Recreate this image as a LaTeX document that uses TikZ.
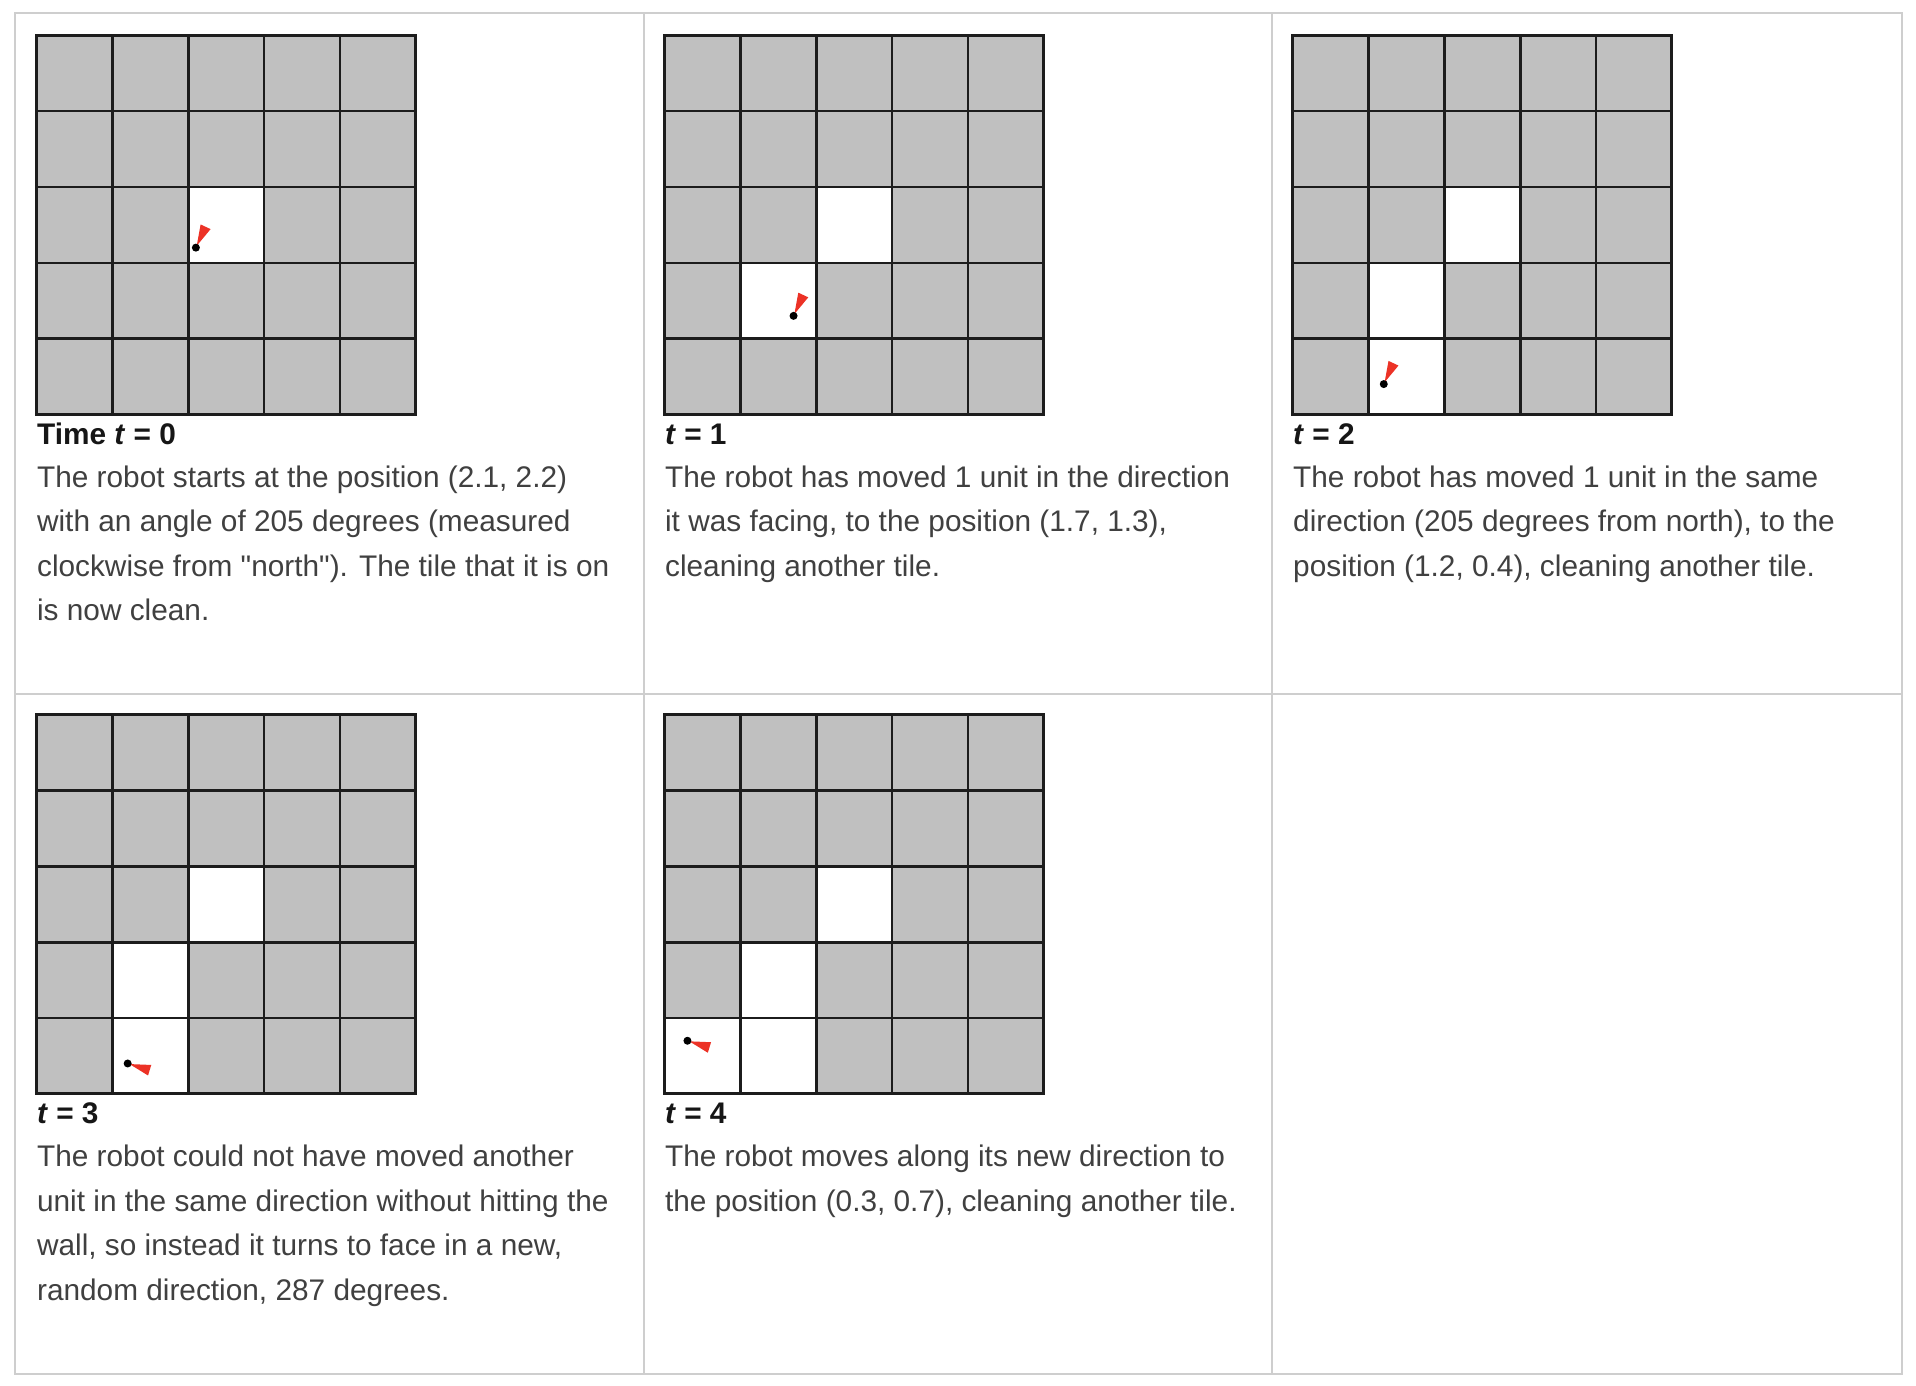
\documentclass[tikz,border=0pt]{standalone}
\usepackage{fontspec}
\setmainfont{Liberation Sans}[Ligatures=TeXOff]
\usetikzlibrary{calc}
\definecolor{cellgray}{RGB}{192,192,192}
\definecolor{gridink}{RGB}{28,28,28}
\definecolor{tableink}{RGB}{206,206,206}
\definecolor{bodyink}{RGB}{64,64,64}
\definecolor{headink}{RGB}{22,22,22}
\definecolor{robotred}{RGB}{236,50,38}
\tikzset{
  headstyle/.style={anchor=base west, inner sep=0pt, text=headink, font=\bfseries\fontsize{14.9}{18}\selectfont},
  bodystyle/.style={anchor=base west, inner sep=0pt, text=bodyink, font=\fontsize{14.9}{18}\selectfont},
  robotdot/.style={circle, fill=black, inner sep=0pt, minimum size=4pt},
  gridstroke/.style={draw=gridink, line width=1.3pt},
  tablestroke/.style={draw=tableink, line width=1pt},
}
\newcommand\roomgrid[3]{%
  \begin{scope}[shift={(#1,#2)}]
    \fill[cellgray] (0,0) rectangle (379,379);
    \foreach \c/\r in {#3} {\fill[white] (\c*75.8,\r*75.8) rectangle ++(75.8,75.8);}
    \foreach \i in {1,...,4} {
      \draw[gridstroke] (\i*75.8,0) -- (\i*75.8,379);
      \draw[gridstroke] (0,\i*75.8) -- (379,\i*75.8);
    }
    \draw[gridstroke, line width=1.6pt] (0,0) rectangle (379,379);
  \end{scope}}
% #1 name, #2 grid left, #3 grid bottom, #4 pos x, #5 pos y, #6 tail angle (cw from north)
\newcommand\robot[6]{%
  \pgfmathsetmacro\rx{#2+75.8*#4}%
  \pgfmathsetmacro\ry{#3-75.8*#5}%
  \pgfmathsetmacro\ux{sin(#6)}%
  \pgfmathsetmacro\uy{0-cos(#6)}%
  \pgfmathsetmacro\bx{\rx+23*\ux}%
  \pgfmathsetmacro\by{\ry+23*\uy}%
  \pgfmathsetmacro\pax{\bx-5.5*\uy}%
  \pgfmathsetmacro\pay{\by+5.5*\ux}%
  \pgfmathsetmacro\pbx{\bx+5.5*\uy}%
  \pgfmathsetmacro\pby{\by-5.5*\ux}%
  \pgfmathsetmacro\sx{\rx+2*\ux}%
  \pgfmathsetmacro\sy{\ry+2*\uy}%
  \fill[robotred] (\sx,\sy) -- (\pax,\pay) -- (\pbx,\pby) -- cycle;
  \node[robotdot] (#1) at (\rx,\ry) {};
}
\begin{document}
\begin{tikzpicture}[x=0.5pt,y=-0.5pt]
\useasboundingbox (0,0) rectangle (1916,1386);
\fill[white] (0,0) rectangle (1916,1386);
% table
\draw[tablestroke] (14.5,13.5) rectangle (1901.5,1373.5);
\draw[tablestroke] (644,13.5) -- (644,1373.5);
\draw[tablestroke] (1272,13.5) -- (1272,1373.5);
\draw[tablestroke] (14.5,694) -- (1901.5,694);
% grids
\roomgrid{36.7}{35.4}{2/2}
\roomgrid{664.7}{35.4}{2/2,1/3}
\roomgrid{1292.8}{35.4}{2/2,1/3,1/4}
\roomgrid{36.7}{714.8}{2/2,1/3,1/4}
\roomgrid{664.7}{714.8}{2/2,1/3,1/4,0/4}
% robots
\robot{r0}{36.7}{414.4}{2.1}{2.2}{25}
\robot{r1}{664.7}{414.4}{1.7}{1.3}{25}
\robot{r2}{1292.8}{414.4}{1.2}{0.4}{25}
\robot{r3}{36.7}{1093.8}{1.2}{0.4}{107}
\robot{r4}{664.7}{1093.8}{0.3}{0.7}{107}
% panel t=0
\node[headstyle] (h0) at (36.7,444) {Time \textit{t} = 0};
\node[bodystyle] (b0a) at (36.7,487) {The robot starts at the position (2.1, 2.2)};
\node[bodystyle] (b0b) at (36.7,531.6) {with an angle of 205 degrees (measured};
\node[bodystyle] (b0c) at (36.7,576.2) {clockwise from "north"). The tile that it is on};
\node[bodystyle] (b0d) at (36.7,620.8) {is now clean.};
% panel t=1
\node[headstyle] (h1) at (664.7,444) {\textit{t} = 1};
\node[bodystyle] (b1a) at (664.7,487) {The robot has moved 1 unit in the direction};
\node[bodystyle] (b1b) at (664.7,531.6) {it was facing, to the position (1.7, 1.3),};
\node[bodystyle] (b1c) at (664.7,576.2) {cleaning another tile.};
% panel t=2
\node[headstyle] (h2) at (1292.8,444) {\textit{t} = 2};
\node[bodystyle] (b2a) at (1292.8,487) {The robot has moved 1 unit in the same};
\node[bodystyle] (b2b) at (1292.8,531.6) {direction (205 degrees from north), to the};
\node[bodystyle] (b2c) at (1292.8,576.2) {position (1.2, 0.4), cleaning another tile.};
% panel t=3
\node[headstyle] (h3) at (36.7,1123.4) {\textit{t} = 3};
\node[bodystyle] (b3a) at (36.7,1166.4) {The robot could not have moved another};
\node[bodystyle] (b3b) at (36.7,1211) {unit in the same direction without hitting the};
\node[bodystyle] (b3c) at (36.7,1255.6) {wall, so instead it turns to face in a new,};
\node[bodystyle] (b3d) at (36.7,1300.2) {random direction, 287 degrees.};
% panel t=4
\node[headstyle] (h4) at (664.7,1123.4) {\textit{t} = 4};
\node[bodystyle] (b4a) at (664.7,1166.4) {The robot moves along its new direction to};
\node[bodystyle] (b4b) at (664.7,1211) {the position (0.3, 0.7), cleaning another tile.};
\end{tikzpicture}
\end{document}
